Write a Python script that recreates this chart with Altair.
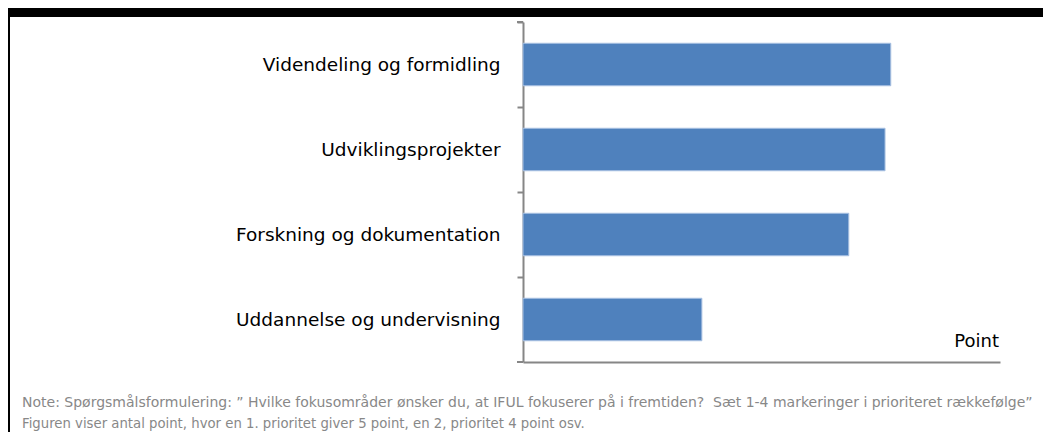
import altair as alt
import pandas as pd

categories = [
    "Videndeling og formidling",
    "Udviklingsprojekter",
    "Forskning og dokumentation",
    "Uddannelse og undervisning",
]
points = [77.1, 75.9, 68.3, 37.5]
x_max = 100
unit_label = "Point"
note_line1 = ("Note: Spørgsmålsformulering: \u201d Hvilke fokusområder ønsker du, at IFUL fokuserer på i "
              "fremtiden?\u00a0 Sæt 1-4 markeringer i prioriteret rækkefølge\u201d")
note_line2 = "Figuren viser antal point, hvor en 1. prioritet giver 5 point, en 2, prioritet 4 point osv."

df = pd.DataFrame({"category": categories, "points": points})

W, H = 477, 340
PL, PT = 515, 14
TOTAL_W, TOTAL_H = 1035, 424
STEP = H / len(categories)

AXIS_GRAY = "#868686"

bars = alt.Chart(df).mark_bar(color="#4F81BD", stroke="#A9C1E2", strokeWidth=1).encode(
    y=alt.Y(
        "category:N", sort=categories, title=None,
        scale=alt.Scale(paddingInner=0.5, paddingOuter=0.25),
        axis=alt.Axis(domainColor=AXIS_GRAY, domainWidth=2, tickColor=AXIS_GRAY, tickWidth=2,
                      tickSize=6, tickOffset=-STEP / 2, labelOffset=STEP / 2,
                      labelFont="DejaVu Sans", labelFontSize=18.5,
                      labelColor="#000000", labelPadding=17, grid=False, labelLimit=450),
    ),
    x=alt.X(
        "points:Q", title=None, scale=alt.Scale(domain=[0, x_max], nice=False, zero=True),
        axis=alt.Axis(labels=False, ticks=False, grid=False, domainColor=AXIS_GRAY, domainWidth=2),
    ),
)


def text_layer(txt, x, y, **kw):
    return alt.Chart(pd.DataFrame({"t": [txt]})).mark_text(**kw).encode(
        x=alt.value(x), y=alt.value(y), text="t:N"
    )


one = pd.DataFrame({"k": [0]})
band = alt.Chart(one).mark_rect(color="#000000").encode(
    x=alt.value(-PL), x2=alt.value(TOTAL_W - PL), y=alt.value(-PT), y2=alt.value(-PT + 9)
)
border = alt.Chart(one).mark_rect(color="#000000").encode(
    x=alt.value(-PL), x2=alt.value(-PL + 2), y=alt.value(-PT), y2=alt.value(TOTAL_H - PT)
)
top_tick = alt.Chart(one).mark_rule(color=AXIS_GRAY, strokeWidth=2).encode(
    x=alt.value(-6), x2=alt.value(0), y=alt.value(0)
)
bottom_tick = alt.Chart(one).mark_rule(color=AXIS_GRAY, strokeWidth=2).encode(
    x=alt.value(-6), x2=alt.value(0), y=alt.value(H)
)

point_txt = text_layer(unit_label, 476, 325, font="DejaVu Sans", fontSize=18, align="right",
                       baseline="alphabetic", color="#000000")
note1 = text_layer(note_line1, 22 - 8 - PL, 385, font="DejaVu Sans", fontSize=14.0, align="left",
                   baseline="alphabetic", color="#888888")
note2 = text_layer(note_line2, 22 - 8 - PL, 406, font="DejaVu Sans", fontSize=13.25, align="left",
                   baseline="alphabetic", color="#888888")

chart = alt.layer(band, border, bars, top_tick, bottom_tick, point_txt, note1, note2).properties(
    width=W, height=H,
    padding={"left": PL, "top": PT, "right": TOTAL_W - PL - W, "bottom": TOTAL_H - PT - H},
    autosize=alt.AutoSizeParams(type="none"),
).configure_view(stroke=None)

chart.save("out.html", embed_options={"renderer": "svg", "actions": False})
